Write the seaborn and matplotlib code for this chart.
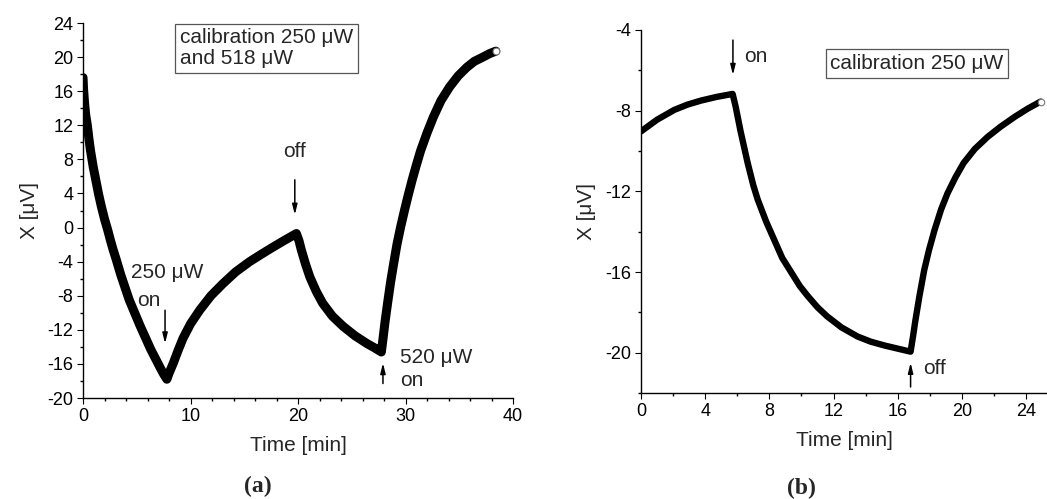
import numpy as np
import pandas as pd
import seaborn as sns
import matplotlib.pyplot as plt
from matplotlib.ticker import MultipleLocator

# panel (a): calibration 250 uW and 518 uW
time_a = [0.0, 0.05, 0.15, 0.25, 0.4, 0.55, 0.7, 0.95, 1.2, 1.45, 1.7, 2.0, 2.3, 2.55,
          2.8, 3.1, 3.5, 3.9, 4.3, 4.8, 5.3, 5.8, 6.3, 6.75, 7.2, 7.5, 7.8,
          8.0, 8.4, 8.85, 9.3, 10.0, 10.85, 11.9, 13.0, 14.2, 15.5, 16.5, 17.4, 18.6, 19.85,
          20.1, 20.3, 20.7, 21.1, 21.7, 22.3, 23.2, 24.2, 25.3, 26.4, 27.1, 27.75,
          27.9, 28.1, 28.35, 28.6, 28.9, 29.2, 29.55, 29.9, 30.25, 30.6, 31.0, 31.4,
          32.0, 32.6, 33.3, 34.1, 34.9, 35.7, 36.4, 37.2, 37.8, 38.4]
x_a = [17.6, 16.2, 14.5, 13.2, 12.0, 10.4, 9.0, 7.1, 5.5, 3.9, 2.5, 1.0, -0.3, -1.5,
       -2.6, -3.8, -5.5, -7.0, -8.5, -10.0, -11.5, -12.9, -14.3, -15.4, -16.5, -17.2, -17.8,
       -17.1, -15.9, -14.4, -13.0, -11.3, -9.7, -8.0, -6.6, -5.2, -4.0, -3.2, -2.5, -1.6, -0.7,
       -1.6, -2.6, -4.3, -5.8, -7.5, -8.9, -10.4, -11.6, -12.7, -13.6, -14.1, -14.6,
       -13.1, -11.0, -8.7, -6.5, -4.2, -2.0, 0.1, 2.0, 3.8, 5.5, 7.3, 9.0,
       11.1, 13.0, 14.9, 16.5, 17.8, 18.8, 19.5, 20.0, 20.4, 20.7]

# panel (b): calibration 250 uW
time_b = [0.0, 1.0, 2.08, 2.9, 3.74, 4.7, 5.71,
          5.9, 6.2, 6.65, 7.0, 7.27, 7.8, 8.3, 8.8, 9.35, 9.9, 10.4, 11.0, 11.6,
          12.5, 13.5, 14.3, 15.2, 16.0, 16.8,
          16.95, 17.1, 17.35, 17.65, 17.95, 18.3, 18.7, 19.1, 19.6, 20.1, 20.8,
          21.6, 22.4, 23.3, 24.1, 24.9]
x_b = [-9.03, -8.45, -7.96, -7.7, -7.5, -7.32, -7.17,
       -7.8, -9.0, -10.6, -11.7, -12.4, -13.5, -14.4, -15.3, -16.0, -16.7, -17.2, -17.75, -18.2,
       -18.75, -19.2, -19.45, -19.65, -19.8, -19.95,
       -19.2, -18.4, -17.2, -15.9, -14.9, -13.9, -12.9, -12.1, -11.3, -10.6, -9.9,
       -9.3, -8.8, -8.3, -7.9, -7.55]

dfa = pd.DataFrame({'t': time_a, 'x': x_a})
dfb = pd.DataFrame({'t': time_b, 'x': x_b})

sns.set_style('ticks')
plt.rcParams['font.family'] = ['Liberation Sans', 'DejaVu Sans']
plt.rcParams['axes.unicode_minus'] = False
plt.rcParams['axes.linewidth'] = 1.0
plt.rcParams['xtick.major.size'] = 4
plt.rcParams['ytick.major.size'] = 4
plt.rcParams['xtick.minor.size'] = 2.5
plt.rcParams['ytick.minor.size'] = 2.5
plt.rcParams['xtick.color'] = 'black'
plt.rcParams['ytick.color'] = 'black'
plt.rcParams['axes.edgecolor'] = 'black'

fig = plt.figure(figsize=(10.47, 4.99), dpi=100)
axa = fig.add_axes([0.0793, 0.2024, 0.4107, 0.7515])
axb = fig.add_axes([0.6122, 0.2124, 0.3878, 0.7275])

arrow = dict(arrowstyle='-|>,head_length=0.6,head_width=0.15', lw=1.1, color='black',
             shrinkA=0, shrinkB=0)
tfs = 15
lfs = 13

# ---- (a)
sns.lineplot(data=dfa, x='t', y='x', ax=axa, color='black', linewidth=6.5,
             estimator=None, sort=False, solid_joinstyle='round', solid_capstyle='round')
axa.scatter(time_a[-1], x_a[-1], s=24, facecolor='white', edgecolor='#777777',
            linewidth=0.8, zorder=5)
axa.set_xlim(0, 40)
axa.set_ylim(-20, 24)
axa.xaxis.set_major_locator(MultipleLocator(10))
axa.xaxis.set_minor_locator(MultipleLocator(2))
axa.yaxis.set_major_locator(MultipleLocator(4))
axa.yaxis.set_minor_locator(MultipleLocator(2))
axa.set_xlabel('Time [min]', fontsize=tfs, labelpad=8)
axa.set_ylabel('X [μV]', fontsize=tfs, labelpad=6)
axa.tick_params(labelsize=lfs, pad=3)
axa.tick_params(which='minor', width=1)

axa.text(9.0, 23.4, 'calibration 250 μW\nand 518 μW', fontsize=tfs, va='top', ha='left',
         linespacing=1.15, bbox=dict(boxstyle='square,pad=0.22', fc='white', ec='#555555', lw=0.9))
axa.text(19.7, 8.9, 'off', fontsize=tfs, ha='center', va='center')
axa.annotate('', xy=(19.7, 1.5), xytext=(19.7, 5.6), arrowprops=arrow)
axa.text(4.5, -5.3, '250 μW', fontsize=tfs, ha='left', va='center')
axa.text(5.0, -8.6, 'on', fontsize=tfs, ha='left', va='center')
axa.annotate('', xy=(7.63, -13.6), xytext=(7.63, -9.7), arrowprops=arrow)
axa.text(29.5, -15.2, '520 μW', fontsize=tfs, ha='left', va='center')
axa.text(29.5, -17.9, 'on', fontsize=tfs, ha='left', va='center')
axa.annotate('', xy=(27.9, -15.9), xytext=(27.9, -18.3), arrowprops=arrow)

# ---- (b)
sns.lineplot(data=dfb, x='t', y='x', ax=axb, color='black', linewidth=4.6,
             estimator=None, sort=False, solid_joinstyle='round', solid_capstyle='round')
axb.scatter(time_b[-1], x_b[-1], s=22, facecolor='white', edgecolor='#777777',
            linewidth=0.8, zorder=5)
axb.set_xlim(0, 25.3)
axb.set_ylim(-22, -4)
axb.xaxis.set_major_locator(MultipleLocator(4))
axb.xaxis.set_minor_locator(MultipleLocator(2))
axb.yaxis.set_major_locator(MultipleLocator(4))
axb.yaxis.set_minor_locator(MultipleLocator(2))
axb.set_xlabel('Time [min]', fontsize=tfs, labelpad=8)
axb.set_ylabel('X [μV]', fontsize=tfs, labelpad=7)
axb.tick_params(labelsize=lfs, pad=3)
axb.tick_params(which='minor', width=1)

axb.annotate('', xy=(5.73, -6.23), xytext=(5.73, -4.5), arrowprops=arrow)
axb.text(6.4, -5.3, 'on', fontsize=tfs, ha='left', va='center')
axb.text(11.8, -5.66, 'calibration 250 μW', fontsize=tfs, ha='left', va='center',
         bbox=dict(boxstyle='square,pad=0.22', fc='white', ec='#555555', lw=0.9))
axb.text(17.6, -20.8, 'off', fontsize=tfs, ha='left', va='center')
axb.annotate('', xy=(16.8, -20.5), xytext=(16.8, -21.7), arrowprops=arrow)

for ax in (axa, axb):
    sns.despine(ax=ax)
    ax.spines['bottom'].set_bounds(ax.get_xlim())

fig.text(0.246, 0.026, '(a)', fontsize=17, fontweight='bold', ha='center', va='center',
         family=['Liberation Serif', 'DejaVu Serif'])
fig.text(0.765, 0.022, '(b)', fontsize=17, fontweight='bold', ha='center', va='center',
         family=['Liberation Serif', 'DejaVu Serif'])

fig.savefig('out.png', dpi=100)
